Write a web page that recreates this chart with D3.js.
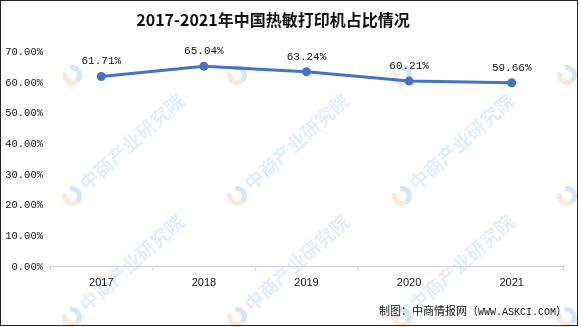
<!DOCTYPE html>
<html><head><meta charset="utf-8">
<script src="https://cdn.jsdelivr.net/npm/d3@7"></script>
<style>body{margin:0;background:#fff}svg{display:block}</style>
</head><body><svg id="c" width="581" height="327"></svg>
<script>
const categories = ["2017","2018","2019","2020","2021"];
const values = [61.71, 65.04, 63.24, 60.21, 59.66];
const valueLabels = ["61.71%","65.04%","63.24%","60.21%","59.66%"];
const yTicks = [0,10,20,30,40,50,60,70];
const title = "2017-2021年中国热敏打印机占比情况";
const sourceParts = ["制图：中商情报网（", "WWW.ASKCI.COM", "）"];

const svg = d3.select("#c");
const x = d3.scaleBand().domain(categories).range([50, 563]);
const y = d3.scaleLinear().domain([0,70]).range([266, 51]);

// watermarks
const wm = svg.append("g").attr("opacity",0.2);
for (let r=0;r<3;r++){
  for (let c=0;c<4;c++){
    const cx = 72 + c*165, cy = 75 + r*121;
    const g = wm.append("g").attr("transform",`translate(${cx},${cy}) rotate(-42)`);
    g.append("path").attr("d", d3.arc()({innerRadius:5,outerRadius:10,startAngle:Math.PI*0.15,endAngle:Math.PI*1.0})).attr("fill","#2a7fd4");
    g.append("path").attr("d", d3.arc()({innerRadius:5,outerRadius:10,startAngle:Math.PI*1.0,endAngle:Math.PI*1.85})).attr("fill","#f08a3c");
    if (r>0 && c<3) g.append("text").attr("x",14).attr("y",7).attr("font-family","Noto Sans CJK SC").attr("font-size",19).attr("font-weight","bold")
      .attr("fill","#7aa6d6").text("中商产业研究院");
  }
}

// border
svg.append("rect").attr("x",0.5).attr("y",0.5).attr("width",577).attr("height",325)
  .attr("fill","none").attr("stroke","#222").attr("stroke-width",1);

// title
svg.append("text").attr("x",273).attr("y",26).attr("text-anchor","middle")
  .attr("font-family","Noto Sans CJK SC").attr("font-weight","bold").attr("font-size",16)
  .attr("fill","#111").text(title);

// y axis labels
const ya = svg.append("g").attr("transform","translate(43,0)")
  .call(d3.axisLeft(y).tickValues(yTicks).tickSize(0).tickPadding(0).tickFormat(d=>d.toFixed(2)+"%"));
ya.select(".domain").remove();
ya.selectAll("text").attr("font-family","Liberation Mono").attr("font-size",10.5).attr("fill","#111");

// x axis
const xa = svg.append("g").attr("transform","translate(0,266)")
  .call(d3.axisBottom(x).tickSize(0).tickPadding(12));
xa.select(".domain").attr("stroke","#d0d0d0");
xa.selectAll("text").attr("font-family","Liberation Sans").attr("font-size",11).attr("fill","#111");
const bounds = categories.map(c=>x(c)).concat([x.range()[1]]);
xa.selectAll(".bt").data(bounds).enter().append("line").attr("class","bt")
  .attr("x1",d=>d+0.5).attr("x2",d=>d+0.5).attr("y1",0).attr("y2",5).attr("stroke","#d0d0d0");

// line
const cx = d=>x(d)+x.bandwidth()/2;
const line = d3.line().x((d,i)=>cx(categories[i])).y(d=>y(d));
svg.append("path").datum(values).attr("d",line).attr("fill","none").attr("stroke","#4472C4").attr("stroke-width",3);
svg.selectAll(".pt").data(values).enter().append("circle").attr("class","pt")
  .attr("cx",(d,i)=>cx(categories[i])).attr("cy",d=>y(d)).attr("r",4.5).attr("fill","#4472C4");
svg.selectAll(".lb").data(values).enter().append("text").attr("class","lb")
  .attr("x",(d,i)=>cx(categories[i])).attr("y",d=>y(d)-12).attr("text-anchor","middle")
  .attr("font-family","Liberation Mono").attr("font-size",11).attr("fill","#111")
  .text((d,i)=>valueLabels[i]);

// source
const st = svg.append("text").attr("x",567).attr("y",315).attr("text-anchor","end")
  .attr("font-family","Noto Sans CJK SC").attr("font-size",11).attr("fill","#111");
st.append("tspan").text(sourceParts[0]);
st.append("tspan").attr("font-family","Liberation Mono").attr("font-size",10).text(sourceParts[1]);
st.append("tspan").text(sourceParts[2]);
</script></body></html>
